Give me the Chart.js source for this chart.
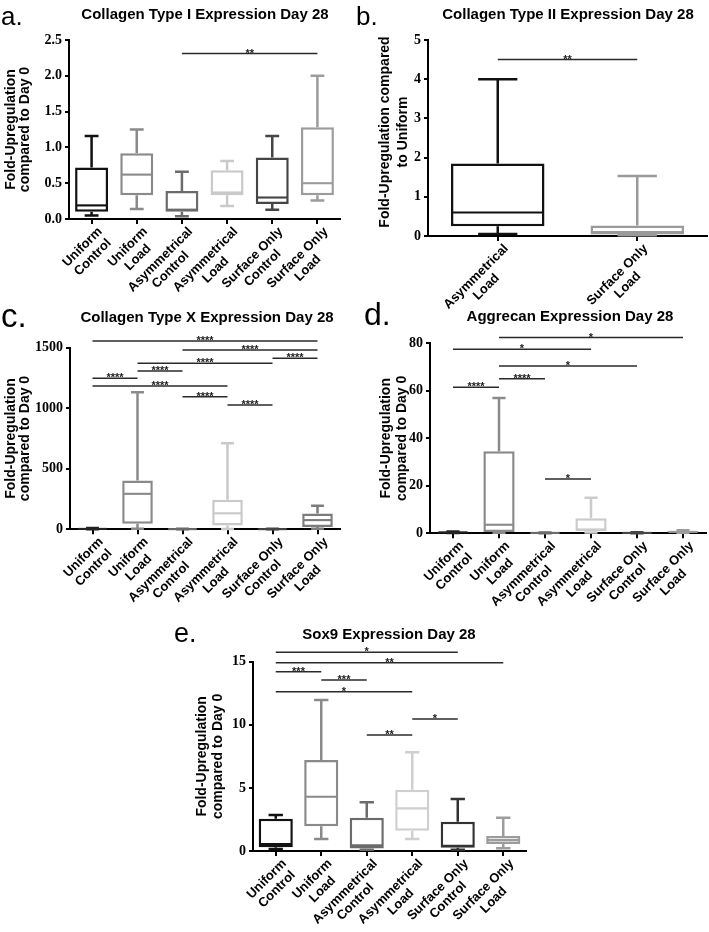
<!DOCTYPE html>
<html><head><meta charset="utf-8">
<script src="https://cdn.jsdelivr.net/npm/chart.js@4.4.1/dist/chart.umd.min.js"></script>
<style>
html,body{margin:0;padding:0;background:#fff;}
#wrap{position:relative;width:709px;height:932px;overflow:hidden;background:#fff;}
canvas{position:absolute;}
</style></head>
<body><div id="wrap"></div>
<script>
// ---------- categories ----------
const sixCategories = [['Uniform','Control'],['Uniform','Load'],['Asymmetrical','Control'],['Asymmetrical','Load'],['Surface Only','Control'],['Surface Only','Load']];
const twoCategories = [['Asymmetrical','Load'],['Surface Only','Load']];

// ---------- a. Collagen Type I ----------
const aMin = [0.05, 0.14, 0.04, 0.18, 0.13, 0.26];
const aQ1  = [0.10, 0.33, 0.10, 0.33, 0.21, 0.33];
const aMed = [0.19, 0.62, 0.13, 0.37, 0.30, 0.50];
const aQ3  = [0.72, 0.92, 0.39, 0.68, 0.86, 1.28];
const aMax = [1.16, 1.25, 0.66, 0.81, 1.16, 2.00];
const aSigFrom = [2], aSigTo = [5], aSigY = [2.31], aSigLabel = ['**'];
const aTicks = [0, 0.5, 1.0, 1.5, 2.0, 2.5];

// ---------- b. Collagen Type II ----------
const bMin = [0.05, 0.02];
const bQ1  = [0.25, 0.04];
const bMed = [0.60, 0.10];
const bQ3  = [1.85, 0.27];
const bMax = [4.00, 1.53];
const bSigFrom = [0], bSigTo = [1], bSigY = [4.5], bSigLabel = ['**'];
const bTicks = [0, 1, 2, 3, 4, 5];

// ---------- c. Collagen Type X ----------
const cMin = [0, 5, 0, 3, 0, 5];
const cQ1  = [1, 45, 0.5, 32, 0.5, 20];
const cMed = [3, 293, 1.5, 132, 1.5, 76];
const cQ3  = [7, 403, 3, 244, 3, 131];
const cMax = [11, 1132, 5, 710, 5, 195];
const cSigFrom = [0, 2, 4, 1, 1, 0, 0, 2, 3];
const cSigTo   = [5, 5, 5, 4, 2, 1, 3, 3, 4];
const cSigY    = [1555, 1481, 1412, 1371, 1307, 1247, 1183, 1095, 1026];
const cSigLabel = ['****','****','****','****','****','****','****','****','****'];
const cTicks = [0, 500, 1000, 1500];

// ---------- d. Aggrecan ----------
const dMin = [0.1, 0.2, 0.05, 0.3, 0.05, 0.2];
const dQ1  = [0.2, 0.6, 0.1, 0.9, 0.1, 0.4];
const dMed = [0.4, 3.6, 0.15, 1.6, 0.15, 0.6];
const dQ3  = [0.6, 34.5, 0.25, 6.3, 0.3, 0.9];
const dMax = [0.8, 57.0, 0.35, 15.0, 0.45, 1.3];
const dSigFrom = [1, 0, 1, 1, 0, 2];
const dSigTo   = [5, 3, 4, 2, 1, 3];
const dSigY    = [82.4, 77.5, 70.4, 65.1, 61.5, 22.9];
const dSigLabel = ['*','*','*','****','****','*'];
const dTicks = [0, 20, 40, 60, 80];

// ---------- e. Sox9 ----------
const eMin = [0.15, 0.95, 0.10, 0.95, 0.10, 0.22];
const eQ1  = [0.30, 1.97, 0.20, 1.60, 0.25, 0.55];
const eMed = [0.55, 4.30, 0.45, 3.38, 0.42, 0.86];
const eQ3  = [2.56, 7.22, 2.64, 4.85, 2.32, 1.18];
const eMax = [2.85, 11.97, 3.86, 7.82, 4.12, 2.64];
const eSigFrom = [0, 0, 0, 1, 0, 3, 2];
const eSigTo   = [4, 5, 1, 2, 3, 4, 3];
const eSigY    = [15.74, 14.92, 14.20, 13.55, 12.62, 10.46, 9.19];
const eSigLabel = ['*','**','***','***','*','*','**'];
const eTicks = [0, 5, 10, 15];

// ---------- styles (colours per category) ----------
const colA = ['#111111','#8a8a8a','#6b6b6b','#c9c9c9','#454545','#9c9c9c'];
const colB = ['#111111','#9a9a9a'];
const colC = ['#222222','#8a8a8a','#6b6b6b','#c9c9c9','#454545','#7c7c7c'];
const colD = ['#222222','#8a8a8a','#6b6b6b','#cbcbcb','#454545','#9c9c9c'];
const colE = ['#111111','#8a8a8a','#6b6b6b','#cfcfcf','#333333','#9c9c9c'];

const SANS = '"Liberation Sans", Arial, sans-serif';
const SERIF = '"Liberation Serif", "Times New Roman", serif';

function makePanel(p){
  const wrap = document.getElementById('wrap');
  const cv = document.createElement('canvas');
  cv.width = p.w; cv.height = p.h;
  cv.style.left = p.left + 'px'; cv.style.top = p.top + 'px';
  cv.style.width = p.w + 'px'; cv.style.height = p.h + 'px';
  wrap.appendChild(cv);
  const n = p.cats.length;
  const boxPlugin = {
    id: 'boxplot_' + p.letter,
    beforeDatasetsDraw(chart){
      const ctx = chart.ctx, xs = chart.scales.x, ys = chart.scales.y;
      const meta = chart.getDatasetMeta(0);
      ctx.save();
      ctx.lineWidth = p.lw; ctx.lineCap = 'butt';
      for(let i=0;i<n;i++){
        const x = xs.getPixelForValue(i);
        const bw = meta.data[i].width;
        const cw = bw * 0.42;
        ctx.strokeStyle = p.colors[i];
        const yMax = ys.getPixelForValue(p.max[i]), yQ3 = ys.getPixelForValue(p.q3[i]);
        const yMin = ys.getPixelForValue(p.min[i]), yQ1 = ys.getPixelForValue(p.q1[i]);
        ctx.beginPath();
        ctx.moveTo(x, yQ3); ctx.lineTo(x, yMax);
        ctx.moveTo(x - cw/2, yMax); ctx.lineTo(x + cw/2, yMax);
        ctx.moveTo(x, yQ1); ctx.lineTo(x, yMin);
        ctx.moveTo(x - cw/2, yMin); ctx.lineTo(x + cw/2, yMin);
        ctx.stroke();
      }
      ctx.restore();
    },
    afterDatasetsDraw(chart){
      const ctx = chart.ctx, xs = chart.scales.x, ys = chart.scales.y;
      const meta = chart.getDatasetMeta(0);
      ctx.save();
      ctx.lineWidth = p.lw * 0.85;
      for(let i=0;i<n;i++){
        const x = xs.getPixelForValue(i);
        const bw = meta.data[i].width;
        const y = ys.getPixelForValue(p.med[i]);
        ctx.strokeStyle = p.colors[i];
        ctx.beginPath(); ctx.moveTo(x - bw/2 + 1, y); ctx.lineTo(x + bw/2 - 1, y); ctx.stroke();
      }
      ctx.restore();
    },
    afterDraw(chart){
      const ctx = chart.ctx, xs = chart.scales.x, ys = chart.scales.y;
      const area = chart.chartArea;
      ctx.save();
      // significance bars
      ctx.strokeStyle = '#2a2a2a'; ctx.fillStyle = '#222'; ctx.lineWidth = 1.5;
      ctx.font = 'bold 11px ' + SANS; ctx.textAlign = 'center'; ctx.textBaseline = 'alphabetic';
      for(let k=0;k<p.sigFrom.length;k++){
        const x1 = xs.getPixelForValue(p.sigFrom[k]), x2 = xs.getPixelForValue(p.sigTo[k]);
        const y = ys.getPixelForValue(p.sigY[k]);
        ctx.beginPath(); ctx.moveTo(x1, y); ctx.lineTo(x2, y); ctx.stroke();
        ctx.fillText(p.sigLabel[k], (x1 + x2)/2, y + 3);
      }
      // x category labels (rotated 45deg, lines centred)
      ctx.fillStyle = '#000';
      ctx.font = 'bold 13px ' + SANS;
      ctx.textBaseline = 'top'; ctx.textAlign = 'center';
      const lh = 14.5;
      for(let i=0;i<n;i++){
        const x = xs.getPixelForValue(i);
        const lines = p.cats[i];
        let W = 0; lines.forEach(s => W = Math.max(W, ctx.measureText(s).width));
        ctx.save();
        ctx.translate(x + 4, area.bottom + 6);
        ctx.rotate(-Math.PI/4);
        lines.forEach((s, j) => ctx.fillText(s, -W/2, j*lh));
        ctx.restore();
      }
      // y axis title
      ctx.font = 'bold 14px ' + SANS; ctx.textBaseline = 'middle'; ctx.textAlign = 'center';
      const cy = p.yTitleY !== undefined ? p.yTitleY : (area.top + area.bottom)/2;
      p.yTitle.forEach((s, j) => {
        ctx.save(); ctx.translate(p.yTitleX[j], cy); ctx.rotate(-Math.PI/2);
        ctx.fillText(s, 0, 0); ctx.restore();
      });
      // chart title
      ctx.font = 'bold 15px ' + SANS; ctx.textAlign = 'center'; ctx.textBaseline = 'middle';
      ctx.fillText(p.title, p.titleX, p.titleY);
      // panel letter
      ctx.font = p.letterSize + 'px ' + SANS; ctx.textAlign = 'left'; ctx.textBaseline = 'alphabetic';
      ctx.fillText(p.letter, p.letterX, p.letterY);
      ctx.restore();
    }
  };
  const gridOpts = {display:true, drawOnChartArea:false, drawTicks:true, tickLength:5, color:'#000', lineWidth:2, offset:false};
  new Chart(cv.getContext('2d'), {
    type: 'bar',
    data: {
      labels: p.cats.map(c => c.join(' ')),
      datasets: [{
        data: p.cats.map((c, i) => [p.q1[i], p.q3[i]]),
        backgroundColor: 'rgba(255,255,255,1)',
        borderColor: p.colors,
        borderWidth: p.lw,
        borderSkipped: false,
        barPercentage: p.barPct,
        categoryPercentage: 1
      }]
    },
    options: {
      responsive: false, animation: false, devicePixelRatio: 1,
      layout: {padding: {left: 0, right: p.w - p.right, top: p.plotTop, bottom: 0}},
      plugins: {legend: {display: false}, tooltip: {enabled: false}, title: {display: false}},
      scales: {
        x: {
          grid: gridOpts,
          border: {display: true, color: '#000', width: 2},
          ticks: {display: false},
          afterFit: s => { s.height = p.h - p.plotBottom; }
        },
        y: {
          min: p.ticks[0], max: p.ticks[p.ticks.length - 1],
          afterBuildTicks: s => { s.ticks = p.ticks.map(v => ({value: v})); },
          grid: Object.assign({}, gridOpts, {tickLength: 4}),
          border: {display: true, color: '#000', width: 2},
          ticks: {
            color: '#000', padding: 3,
            font: {family: SERIF, weight: 'bold', size: 14},
            callback: v => p.fmt(v)
          },
          afterFit: s => { s.width = p.axisX; }
        }
      }
    },
    plugins: [boxPlugin]
  });
}

makePanel({letter:'a.', left:0, top:0, w:350, h:300, axisX:69, right:340, plotTop:40, plotBottom:219,
  cats: sixCategories, min:aMin, q1:aQ1, med:aMed, q3:aQ3, max:aMax, colors:colA,
  sigFrom:aSigFrom, sigTo:aSigTo, sigY:aSigY, sigLabel:aSigLabel, ticks:aTicks, fmt: v => v.toFixed(1),
  title:'Collagen Type I Expression Day 28', titleX:205, titleY:15,
  yTitle:['Fold-Upregulation','compared to Day 0'], yTitleX:[11,25],
  letterSize:26, letterX:1, letterY:25, lw:2.5, barPct:0.73});

makePanel({letter:'b.', left:350, top:0, w:359, h:330, axisX:78, right:357, plotTop:40, plotBottom:236,
  cats: twoCategories, min:bMin, q1:bQ1, med:bMed, q3:bQ3, max:bMax, colors:colB,
  sigFrom:bSigFrom, sigTo:bSigTo, sigY:bSigY, sigLabel:bSigLabel, ticks:bTicks, fmt: v => String(v),
  title:'Collagen Type II Expression Day 28', titleX:218, titleY:15,
  yTitle:['Fold-Upregulation compared','to Uniform'], yTitleX:[35,53], yTitleY:132,
  letterSize:26, letterX:6, letterY:25, lw:2.5, barPct:0.67});

makePanel({letter:'c.', left:0, top:300, w:350, h:320, axisX:70, right:340, plotTop:47.7, plotBottom:229.3,
  cats: sixCategories, min:cMin, q1:cQ1, med:cMed, q3:cQ3, max:cMax, colors:colC,
  sigFrom:cSigFrom, sigTo:cSigTo, sigY:cSigY, sigLabel:cSigLabel, ticks:cTicks, fmt: v => String(v),
  title:'Collagen Type X Expression Day 28', titleX:207, titleY:18,
  yTitle:['Fold-Upregulation','compared to Day 0'], yTitleX:[11,25],
  letterSize:33, letterX:1, letterY:27, lw:2.5, barPct:0.68});

makePanel({letter:'d.', left:350, top:300, w:359, h:320, axisX:80, right:356, plotTop:43.3, plotBottom:233.3,
  cats: sixCategories, min:dMin, q1:dQ1, med:dMed, q3:dQ3, max:dMax, colors:colD,
  sigFrom:dSigFrom, sigTo:dSigTo, sigY:dSigY, sigLabel:dSigLabel, ticks:dTicks, fmt: v => String(v),
  title:'Aggrecan Expression Day 28', titleX:220, titleY:17,
  yTitle:['Fold-Upregulation','compared to Day 0'], yTitleX:[36,52],
  letterSize:32, letterX:14, letterY:25, lw:2.5, barPct:0.68});

makePanel({letter:'e.', left:170, top:620, w:380, h:312, axisX:83, right:356, plotTop:41.7, plotBottom:231,
  cats: sixCategories, min:eMin, q1:eQ1, med:eMed, q3:eQ3, max:eMax, colors:colE,
  sigFrom:eSigFrom, sigTo:eSigTo, sigY:eSigY, sigLabel:eSigLabel, ticks:eTicks, fmt: v => String(v),
  title:'Sox9 Expression Day 28', titleX:219, titleY:15,
  yTitle:['Fold-Upregulation','compared to Day 0'], yTitleX:[32,48],
  letterSize:27, letterX:4, letterY:22, lw:2.5, barPct:0.75});
</script>
</body></html>
